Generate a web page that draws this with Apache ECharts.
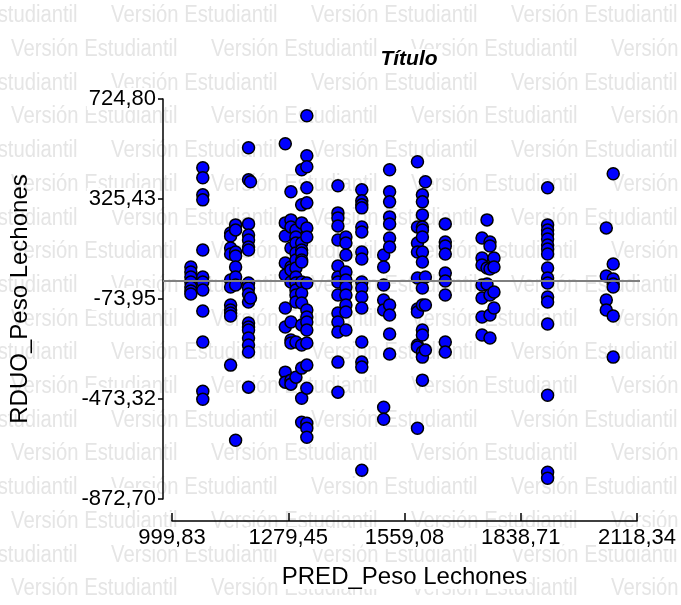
<!DOCTYPE html>
<html lang="es">
<head>
<meta charset="UTF-8">
<title>residuos</title>
<script src="https://cdn.jsdelivr.net/npm/echarts@6.0.0/dist/echarts.min.js"></script>
<style>html,body{margin:0;padding:0;background:#fff;}</style>
</head>
<body>
<div id="main" style="width:681px;height:605px;"></div>
<script>
    // marcas de los ejes
    var xTicks = [999.83, 1279.45, 1559.08, 1838.71, 2118.34];
    var yTicks = [-872.70, -473.32, -73.95, 325.43, 724.80];

    // valores predichos (cada uno es una columna de puntos)
    var pred = [1045.2, 1073.9, 1140.8, 1152.8, 1183.9, 1188.6, 1272.3, 1285.9, 1297.9, 1311.7,
        1324.1, 1398.9, 1418.1, 1456.3, 1508.9, 1523.2, 1590.2, 1602.1, 1609.3, 1657.1,
        1745.5, 1757.5, 1764.6, 1774.2, 1903.2, 2044.3, 2061.0];

    // residuos de cada columna
    var rduo = [
        [54, 34, 14, -6, -26, -42, -54],
        [450, 410, 342, 322, 122, 14, -6, -38, -122, -246, -442, -474],
        [190, 178, 130, 106, 2, -26, -98, -118, -130, -142, -338],
        [222, 202, 114, 98, 54, 14, -18, -638],
        [530, 402, 226, 182, 162, 134, 122, -10, -30, -54, -86, -170, -186, -198, -230, -258, -286, -426],
        [394, -70],
        [546, 230, 178, 70, 22, -110, -186, -366, -406],
        [354, 242, 214, 130, 54, 42, -6, -166, -238, -250, -398, -414],
        [202, 174, 150, 110, 82, 50, 14, -10, -38, -58, -86, -246, -386],
        [442, 302, 230, 150, 122, 110, 82, 74, -6, -50, -90, -178, -258, -350, -470, -566],
        [658, 498, 454, 370, 310, 210, 174, -10, -118, -146, -166, -198, -250, -338, -430, -570, -590, -626],
        [378, 270, 250, 218, 162, 58, 14, -6, -58, -130, -166, -206, -326, -446],
        [174, 150, 102, 34, 2, -26, -58, -98, -126, -198],
        [362, 318, 302, 290, 214, 194, 114, 86, -6, -30, -66, -110, -246, -326, -346, -758],
        [102, 54, -18, -78, -118, -506, -554],
        [442, 354, 314, 254, 226, 170, 134, -98, -138, -214, -294],
        [474, 214, 150, 114, 10, -114, -126, -258, -266, -590],
        [342, 314, 262, 214, 202, 174, 114, 74, -30, -98, -198, -218, -286, -306, -398],
        [394, 14, -98, -278],
        [226, 154, 138, 106, 30, -2, -58, -246, -286],
        [170, 90, 62, -18, -70, -146, -218],
        [242, 50, -14],
        [154, 138, 46, -58, -138, -230],
        [90, 54, -46, -110],
        [370, 222, 202, 186, 166, 142, 126, 106, 50, 10, -10, -66, -86, -174, -458, -766, -790],
        [210, 18, -78, -118],
        [426, 66, 6, -14, -26, -142, -306]
    ];

    var puntos = [];
    for (var i = 0; i < pred.length; i++) {
        for (var j = 0; j < rduo[i].length; j++) {
            puntos.push([pred[i], rduo[i][j]]);
        }
    }

    function coma(v) {
        return v.toFixed(2).replace('.', ',');
    }

    // marca de agua "Versión Estudiantil" (alineada a la derecha para no usar x negativos)
    var wmSize = 23, wmScale = 0.88;
    var ctx = document.createElement('canvas').getContext('2d');
    ctx.font = wmSize + 'px "Liberation Sans"';
    var wmW = ctx.measureText('Versión Estudiantil').width * wmScale;
    var marca = [];
    for (var f = 0; f < 18; f++) {
        var fy = 16 + 33.7 * f;
        var x0 = (f % 2) ? 11 : -89;
        for (var fx = x0; fx < 681; fx += 200) {
            marca.push({
                type: 'text', x: fx + wmW, y: fy, scaleX: wmScale, z: -10, silent: true,
                style: {
                    text: 'Versión Estudiantil', fill: '#e5e5e5',
                    fontSize: wmSize, fontFamily: 'Liberation Sans',
                    align: 'right', verticalAlign: 'middle'
                }
            });
        }
    }

    var lbl = {
        color: '#000', fontSize: 22, fontFamily: 'Liberation Sans',
        backgroundColor: '#fff', padding: [0, 2]
    };

    var chart = echarts.init(document.getElementById('main'));
    var option = {
        animation: false,
        backgroundColor: '#fff',
        graphic: { elements: marca },
        title: {
            text: 'Título',
            left: 407, top: 49, textAlign: 'center', padding: [0, 2],
            backgroundColor: '#fff',
            textStyle: {
                fontSize: 21, fontWeight: 'bold', fontStyle: 'italic',
                fontFamily: 'Liberation Sans', color: '#000'
            }
        },
        grid: [
            { left: 161, right: 41, top: 99, height: 400 },
            { left: 172, right: 41, top: 99, height: 400 }
        ],
        xAxis: [
            { gridIndex: 0, type: 'value', min: 0, max: 1, show: false },
            {
                gridIndex: 1, type: 'value', min: 999.83, max: 2118.34,
                offset: 22,
                name: 'PRED_Peso Lechones', nameLocation: 'middle', nameGap: 44,
                nameTextStyle: {
                    fontSize: 24, fontFamily: 'Liberation Sans', color: '#000',
                    backgroundColor: '#fff', padding: [0, 2]
                },
                axisLine: { onZero: false, lineStyle: { color: '#000', width: 1.5 } },
                axisTick: { inside: true, length: 8, customValues: xTicks, lineStyle: { color: '#000', width: 1.5 } },
                axisLabel: Object.assign({ customValues: xTicks, margin: 6, formatter: coma }, lbl),
                splitLine: { show: false }
            }
        ],
        yAxis: [
            {
                gridIndex: 0, type: 'value', min: -872.70, max: 724.80,
                name: 'RDUO_Peso Lechones', nameLocation: 'middle', nameGap: 131, nameRotate: 90,
                nameTextStyle: { fontSize: 24, fontFamily: 'Liberation Sans', color: '#000' },
                axisLine: { show: true, onZero: false, lineStyle: { color: '#000', width: 1.5 } },
                axisTick: { show: true, length: 8, customValues: yTicks, lineStyle: { color: '#000', width: 1.5 } },
                axisLabel: Object.assign({ customValues: yTicks, margin: 5, formatter: coma }, lbl),
                splitLine: { show: false }
            },
            { gridIndex: 1, type: 'value', min: -872.70, max: 724.80, show: false }
        ],
        series: [
            {
                type: 'line', xAxisIndex: 0, yAxisIndex: 0, data: [],
                markLine: {
                    silent: true, symbol: 'none', label: { show: false },
                    lineStyle: { color: '#808080', width: 2, type: 'solid' },
                    data: [{ yAxis: 0 }]
                }
            },
            {
                type: 'scatter', xAxisIndex: 1, yAxisIndex: 1,
                symbol: 'circle', symbolSize: 12,
                itemStyle: { color: '#0000ff', borderColor: '#000', borderWidth: 1.5, opacity: 1 },
                data: puntos
            }
        ]
    };
    chart.setOption(option);
</script>
</body>
</html>
